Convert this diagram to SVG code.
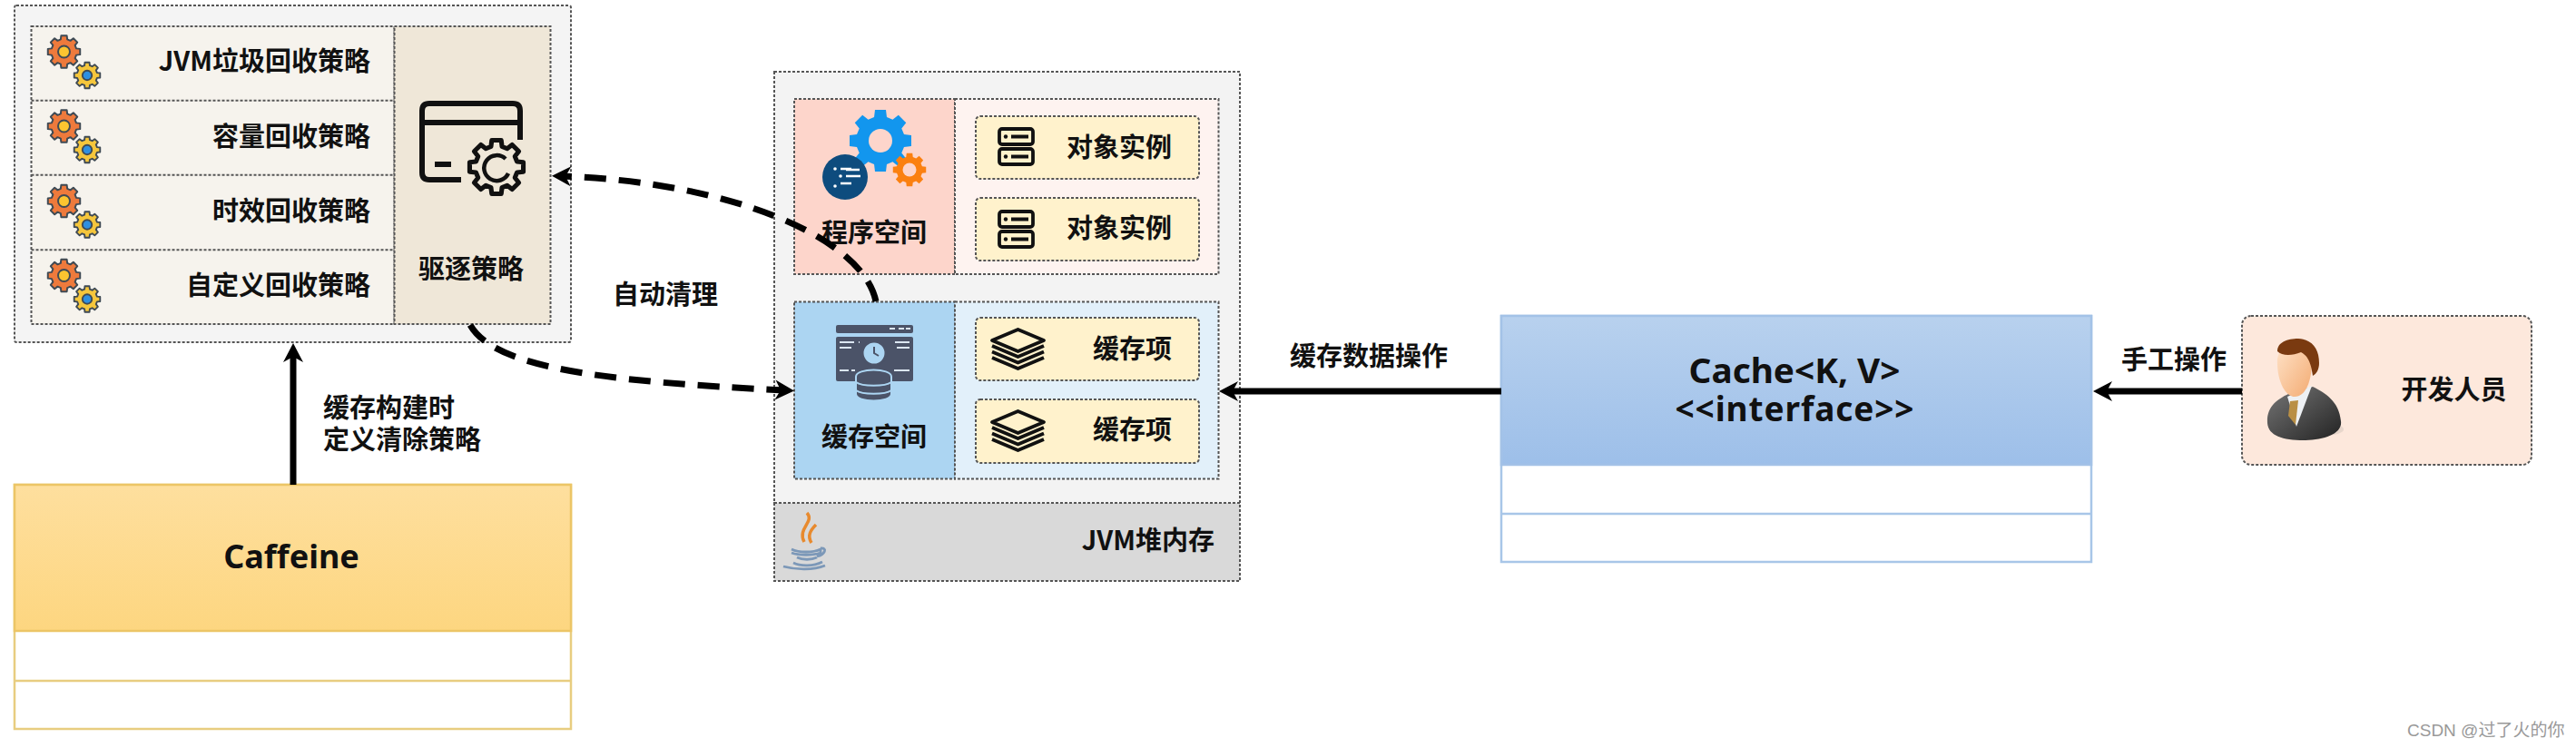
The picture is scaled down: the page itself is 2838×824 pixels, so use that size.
<svg xmlns="http://www.w3.org/2000/svg" xmlns:xlink="http://www.w3.org/1999/xlink" width="2838" height="824" viewBox="0 0 2838 824">
<style>
text{font-family:"Noto Sans CJK SC","Noto Sans",sans-serif;font-weight:700;font-size:29px;fill:#111;dominant-baseline:central}
.e{text-anchor:end}.m{text-anchor:middle}.s{text-anchor:start}
.d{stroke:#555;stroke-width:2;stroke-dasharray:3 2}
.line{fill:none;stroke:#000;stroke-width:7}
.dash{stroke-dasharray:24 14}
.ic{fill:none;stroke:#111;stroke-width:3.800;stroke-linejoin:round}
.cic{fill:#4b5368}
.u{font-family:"Noto Sans","Noto Sans CJK SC",sans-serif;font-size:37px}
.wm{font-family:"Liberation Sans","Noto Sans CJK SC",sans-serif;font-weight:400;font-size:19px;fill:#999}
</style>
<defs>
<linearGradient id="gY" x1="0" y1="0" x2="0" y2="1"><stop offset="0" stop-color="#fedf9e"/><stop offset="1" stop-color="#fdd680"/></linearGradient>
<linearGradient id="gB" x1="0" y1="0" x2="0" y2="1"><stop offset="0" stop-color="#b8d1ee"/><stop offset="1" stop-color="#9dbfe9"/></linearGradient>
<linearGradient id="gF" x1="0" y1="0" x2="1" y2="1"><stop offset="0" stop-color="#ffe3c9"/><stop offset="1" stop-color="#f3ab72"/></linearGradient>
<linearGradient id="gS" x1="0" y1="0" x2="1" y2="1"><stop offset="0" stop-color="#777"/><stop offset="1" stop-color="#222"/></linearGradient>
<marker id="ah" markerUnits="userSpaceOnUse" markerWidth="24" markerHeight="24" refX="12" refY="12" orient="auto"><path d="M22 12L1 1L7 12L1 23Z" fill="#000"/></marker>
<path id="gear" d="M-20.2-75.3L-17.4-98.5L17.4-98.5L20.2-75.3L39-67.5L57.4-81.9L81.9-57.4L67.5-39L75.3-20.2L98.5-17.4L98.5 17.4L75.3 20.2L67.5 39L81.9 57.4L57.4 81.9L39 67.5L20.2 75.3L17.4 98.5L-17.4 98.5L-20.2 75.3L-39 67.5L-57.4 81.9L-81.9 57.4L-67.5 39L-75.3 20.2L-98.5 17.4L-98.5-17.4L-75.3-20.2L-67.5-39L-81.9-57.4L-57.4-81.9L-39-67.5Z"/>
<g id="gears">
<g transform="translate(70.5 57) scale(.18)"><use xlink:href="#gear" href="#gear" fill="#ee7a3c" stroke="#3f4a54" stroke-width="11" stroke-linejoin="round"/><circle r="36" fill="#fcc530" stroke="#3f4a54" stroke-width="11"/></g>
<g transform="translate(96 83) scale(.145)"><use xlink:href="#gear" href="#gear" fill="#f5c63c" stroke="#3f4a54" stroke-width="13" stroke-linejoin="round"/><circle r="36" fill="#2f8fe0" stroke="#3f4a54" stroke-width="13"/></g>
</g>
<g id="server">
<rect x="1" y="1" width="37" height="17" rx="3" class="ic"/><rect x="1" y="23" width="37" height="17" rx="3" class="ic"/>
<circle cx="8" cy="9.5" r="2.200" fill="#111"/><circle cx="8" cy="31.5" r="2.200" fill="#111"/>
<path d="M14 9.5H33M14 31.5H33" class="ic"/>
</g>
<g id="stack">
<path d="M28.500 1L57 13L28.500 25L0 13Z" class="ic"/>
<path d="M0 19L28.500 31L57 19M0 25.500L28.500 37.500L57 25.500M0 32L28.500 44L57 32" class="ic"/>
</g>
</defs>
<rect width="2838" height="824" fill="#fff"/>

<g id="eviction-panel">
<rect x="16" y="6" width="613" height="371" rx="2" fill="#f4f4f4" class="d"/>
<rect x="34.500" y="29" width="400" height="328" fill="#f6f3ed" class="d"/>
<rect x="434.500" y="29" width="172" height="328" fill="#efe7d8" class="d"/>
<path d="M34.500 110.700H434.500M34.500 192.700H434.500M34.500 275.300H434.500" class="d" fill="none"/>
</g>
<g id="jvm-gc"><use xlink:href="#gears" href="#gears"/><text x="408" y="65" class="e">JVM垃圾回收策略</text></g>
<g id="capacity"><use xlink:href="#gears" href="#gears" y="82"/><text x="408" y="148" class="e">容量回收策略</text></g>
<g id="time"><use xlink:href="#gears" href="#gears" y="164.500"/><text x="408" y="230" class="e">时效回收策略</text></g>
<g id="custom"><use xlink:href="#gears" href="#gears" y="246.500"/><text x="408" y="312" class="e">自定义回收策略</text></g>
<g id="eviction">
<path d="M508 198H473Q465 198 465 190V122Q465 114 473 114H565Q573 114 573 122V154M465 135H573M479 181H497" fill="none" stroke="#111" stroke-width="6"/>
<g transform="translate(547 184) scale(.3)"><use xlink:href="#gear" href="#gear" fill="#efe7d8" stroke="#111" stroke-width="17" stroke-linejoin="round"/></g>
<path d="M557 175A14 14 0 1 0 560 191" fill="none" stroke="#111" stroke-width="4.500"/>
<text x="519" y="294" class="m">驱逐策略</text>
</g>

<g id="caffeine">
<rect x="16" y="534" width="613" height="269" fill="#fff" stroke="#e8cd80" stroke-width="2.500"/>
<rect x="16" y="534" width="613" height="161" fill="url(#gY)" stroke="#ecc566" stroke-width="2.500"/>
<path d="M16 750H629" stroke="#e8cd80" stroke-width="2.500"/>
<text x="321" y="612" class="m u" style="font-size:36px">Caffeine</text>
</g>

<g id="jvm-heap">
<rect x="853" y="79" width="513" height="561" fill="#f3f3f3" class="d"/>
<rect x="853" y="554" width="513" height="86" fill="#d9d9d9" class="d"/>
<text x="1338" y="593" class="e">JVM堆内存</text>
<path d="M889 565C898 575 878 582 886 597M899 578C893 584 889 590 894 598" fill="none" stroke="#e88a2e" stroke-width="3.500"/>
<g fill="none" stroke="#7c98b8" stroke-width="2.800"><path d="M872 605C880 609 896 609 904 605L904 609C896 612 880 612 872 609M878 614C884 617 894 617 900 614M874 620C882 624 896 624 906 619M863 624C878 628 896 628 909 623M904 604C912 603 909 611 900 613"/></g>
</g>

<g id="program-space">
<rect x="875" y="109" width="177" height="193" fill="#fdd5cb" class="d"/>
<rect x="1052" y="109" width="290.500" height="193" fill="#fef3f0" class="d"/>
<g transform="translate(970 155) scale(.345)"><use xlink:href="#gear" href="#gear" fill="#1296ee"/></g><circle cx="970" cy="155" r="13" fill="#fdd5cb"/>
<g transform="translate(1002 187) scale(.185)"><use xlink:href="#gear" href="#gear" fill="#fb8010"/></g><circle cx="1002" cy="187" r="7.500" fill="#fdd5cb"/>
<circle cx="931" cy="195" r="25" fill="#0e4c7e"/>
<path d="M926 186H938M932 194H948M926 202H938M932 187H947" stroke="#fff" stroke-width="2.600" fill="none"/>
<circle cx="920" cy="186" r="1.800" fill="#fff"/><circle cx="926" cy="194" r="1.800" fill="#fff"/><circle cx="920" cy="205" r="1.800" fill="#fff"/>
<text x="963" y="254" class="m">程序空间</text>
</g>
<g id="object-1"><rect x="1075" y="128" width="246" height="69" rx="5" fill="#fff2cc" class="d"/><use xlink:href="#server" href="#server" x="1100" y="141"/><text x="1291" y="160" class="e">对象实例</text></g>
<g id="object-2"><rect x="1075" y="218" width="246" height="69" rx="5" fill="#fff2cc" class="d"/><use xlink:href="#server" href="#server" x="1100" y="232"/><text x="1291" y="248.500" class="e">对象实例</text></g>

<g id="cache-space">
<rect x="875" y="332.500" width="177" height="195" fill="#acd5f2" class="d"/>
<rect x="1052" y="332.500" width="290.500" height="195" fill="#e2f0fa" class="d"/>
<rect x="921" y="358" width="85" height="9" rx="2" class="cic"/>
<rect x="921" y="371" width="85" height="49" rx="2" class="cic"/>
<path d="M925 377H941M946 377H947M986 377H1002M925 383H938M988 383H1002M925 408H935M938 408H942M985 408H1002M980 362H986M990 362H996M998 362H1003" stroke="#dbe6f2" stroke-width="2.200" fill="none"/>
<circle cx="963" cy="389" r="13" fill="#acd5f2" stroke="#4b5368" stroke-width="3"/><path d="M963 382V389L968 392" fill="none" stroke="#4b5368" stroke-width="2"/>
<path d="M943 415C943 405 982 405 982 415V434C982 444 943 444 943 434Z" fill="#4b5368" stroke="#acd5f2" stroke-width="2"/>
<path d="M943 421C950 426 975 426 982 421M943 430C950 435 975 435 982 430" fill="none" stroke="#acd5f2" stroke-width="2"/>
<text x="963" y="479" class="m">缓存空间</text>
</g>
<g id="cache-item-1"><rect x="1075" y="350" width="246" height="69" rx="5" fill="#fff2cc" class="d"/><use xlink:href="#stack" href="#stack" x="1093" y="362"/><text x="1291" y="381.500" class="e">缓存项</text></g>
<g id="cache-item-2"><rect x="1075" y="440" width="246" height="70" rx="5" fill="#fff2cc" class="d"/><use xlink:href="#stack" href="#stack" x="1093" y="452"/><text x="1291" y="470.500" class="e">缓存项</text></g>

<g id="cache-interface">
<rect x="1654" y="348" width="650" height="271" fill="#fff" stroke="#a8c6e8" stroke-width="2.500"/>
<rect x="1654" y="348" width="650" height="164" fill="url(#gB)" stroke="#a3c2e7" stroke-width="2.500"/>
<path d="M1654 566H2304" stroke="#a8c6e8" stroke-width="2.500"/>
<text x="1977" y="407" class="m u" textLength="233" lengthAdjust="spacingAndGlyphs">Cache&lt;K, V&gt;</text>
<text x="1977" y="449" class="m u" textLength="263" lengthAdjust="spacing">&lt;&lt;interface&gt;&gt;</text>
</g>

<g id="developer">
<rect x="2470" y="348" width="319" height="164" rx="10" fill="#fde8dc" class="d"/>
<ellipse cx="2560" cy="473" rx="22" ry="7" fill="#d8c9c0" opacity=".6"/>
<path d="M2498 466C2497 448 2508 440 2525 432L2548 426C2562 433 2577 442 2579 464C2581 478 2560 485 2538 485C2515 485 2499 480 2498 466Z" fill="url(#gS)"/>
<path d="M2520 437L2547 425L2530 470Z" fill="#eef1f4"/>
<path d="M2523 442L2532 441L2529 468L2521 458Z" fill="#b98f45"/>
<path d="M2509 395C2508 420 2518 437 2528 437C2540 437 2547 420 2547 398L2530 378L2512 385Z" fill="url(#gF)"/>
<path d="M2509 387C2509 377 2520 373 2532 373C2548 374 2555 385 2555 400C2555 407 2552 412 2548 414C2546 400 2543 392 2535 388C2525 392 2514 392 2509 387Z" fill="#7a3a10"/>
<text x="2703.500" y="427" class="m">开发人员</text>
</g>

<g id="connectors">
<path d="M323 534V388" class="line" marker-end="url(#ah)"/>
<path d="M518 358C545 405 660 420 865 430" class="line dash" marker-end="url(#ah)"/>
<path d="M965 332C950 260 800 200 618 194" class="line dash" marker-end="url(#ah)"/>
<path d="M1654 431H1353" class="line" marker-end="url(#ah)"/>
<path d="M2470 431H2316" class="line" marker-end="url(#ah)"/>
</g>
<g id="labels">
<text x="356" y="447" class="s">缓存构建时</text>
<text x="356" y="482" class="s">定义清除策略</text>
<text x="733" y="322" class="m">自动清理</text>
<text x="1508" y="390" class="m">缓存数据操作</text>
<text x="2395" y="394" class="m">手工操作</text>
<text x="2652" y="804" class="s wm">CSDN @过了火的你</text>
</g>
</svg>
